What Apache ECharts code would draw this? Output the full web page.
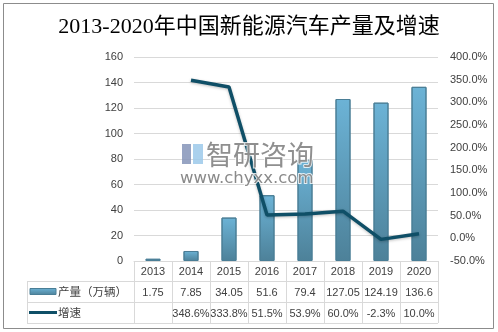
<!DOCTYPE html>
<html><head><meta charset="utf-8">
<script src="https://cdn.jsdelivr.net/npm/echarts@6/dist/echarts.min.js"></script>
<style>html,body{margin:0;padding:0;background:#fff}#c{width:498px;height:332px}</style>
</head><body><div id="c"></div>
<script>
var categories = ['2013','2014','2015','2016','2017','2018','2019','2020'];
var production = [1.75, 7.85, 34.05, 51.6, 79.4, 127.05, 124.19, 136.6];
var growth = [null, 348.6, 333.8, 51.5, 53.9, 60.0, -2.3, 10.0];
var productionLabels = ['1.75','7.85','34.05','51.6','79.4','127.05','124.19','136.6'];
var growthLabels = ['','348.6%','333.8%','51.5%','53.9%','60.0%','-2.3%','10.0%'];
var seriesNames = ['产量（万辆）','增速'];
var titleText = '2013-2020年中国新能源汽车产量及增速';

var FONT = '"Liberation Sans", "Noto Sans CJK SC", sans-serif';
var TXT = '#404040';
var GRID = '#d9d9d9';
var barGrad = new echarts.graphic.LinearGradient(0,0,0,1,[{offset:0,color:'#6cb3d6'},{offset:1,color:'#4d8199'}]);

var chart = echarts.init(document.getElementById('c'), null, {renderer:'canvas'});
var option = {
  animation:false,
  backgroundColor:'#fff',
  title:{text:titleText,left:'center',top:11,textStyle:{fontFamily:'"Liberation Serif", "Noto Sans CJK SC", serif',fontSize:22,fontWeight:'normal',color:'#000'}},
  grid:{left:134,right:60,top:57,bottom:71,containLabel:false},
  xAxis:{type:'category',data:categories,
    axisLine:{show:true,lineStyle:{color:GRID,width:1}},
    axisTick:{show:false},
    axisLabel:{margin:5,fontSize:11,fontFamily:FONT,color:TXT}},
  yAxis:[
    {type:'value',min:0,max:160,interval:20,
     axisLine:{show:false},axisTick:{show:false},
     axisLabel:{margin:11,fontSize:11,fontFamily:FONT,color:TXT},
     splitLine:{lineStyle:{color:GRID,width:1}}},
    {type:'value',min:-50,max:400,interval:50,position:'right',
     axisLine:{show:false},axisTick:{show:false},
     axisLabel:{margin:12,fontSize:11,fontFamily:FONT,color:TXT,formatter:function(v){return v.toFixed(1)+'%';}},
     splitLine:{show:false}}
  ],
  series:[
    {name:seriesNames[0],type:'bar',data:production,barWidth:15,
     itemStyle:{color:barGrad,borderColor:'#4a7e96',borderWidth:1}},
    {name:seriesNames[1],type:'line',yAxisIndex:1,data:growth,symbol:'none',
     lineStyle:{color:'#0f4f67',width:3.5,shadowColor:'rgba(0,0,0,0.25)',shadowBlur:3,shadowOffsetY:1},z:5}
  ]
};
chart.setOption(option);

// build table & decorations from axis scale
var c0 = chart.convertToPixel({xAxisIndex:0}, 0);
var c1 = chart.convertToPixel({xAxisIndex:0}, 1);
var bw = c1 - c0;
var x0 = c0 - bw/2;
var x1 = x0 + bw*categories.length;
var yAxisPx = chart.convertToPixel({yAxisIndex:0}, 0);
var r1 = yAxisPx + 20, r2 = r1 + 21, r3 = r2 + 21;
var legendLeft = 27;
var g = [];
function line(xa,ya,xb,yb){g.push({type:'line',shape:{x1:xa,y1:ya,x2:xb,y2:yb},style:{stroke:GRID,lineWidth:1},silent:true});}
line(legendLeft, r1+0.5, x1, r1+0.5);
line(legendLeft, r2+0.5, x1, r2+0.5);
line(legendLeft, r3+0.5, x1, r3+0.5);
line(legendLeft+0.5, r1, legendLeft+0.5, r3);
for (var k=0;k<=categories.length;k++){var xx=Math.round(x0+bw*k)+0.5; line(xx, yAxisPx, xx, r3);}
for (var i=0;i<categories.length;i++){
  var cx = chart.convertToPixel({xAxisIndex:0}, i);
  g.push({type:'text',x:cx,y:(r1+r2)/2+1,style:{text:productionLabels[i],font:'11px '+FONT,fill:TXT,textAlign:'center',textVerticalAlign:'middle'}});
  g.push({type:'text',x:cx,y:(r2+r3)/2+1,style:{text:growthLabels[i],font:'11px '+FONT,fill:TXT,textAlign:'center',textVerticalAlign:'middle'}});
}
// legend keys
g.push({type:'rect',shape:{x:30,y:(r1+r2)/2-3,width:26,height:6},style:{fill:barGrad,stroke:'#4a7e96',lineWidth:1}});
g.push({type:'text',x:58,y:(r1+r2)/2+1,style:{text:seriesNames[0],font:'11.5px '+FONT,fill:TXT,textVerticalAlign:'middle'}});
g.push({type:'line',shape:{x1:29,y1:(r2+r3)/2,x2:57,y2:(r2+r3)/2},style:{stroke:'#0f4f67',lineWidth:3}});
g.push({type:'text',x:58,y:(r2+r3)/2+1,style:{text:seriesNames[1],font:'11.5px '+FONT,fill:TXT,textVerticalAlign:'middle'}});
// outer border
g.push({type:'rect',shape:{x:3.5,y:3.5,width:490,height:325},style:{fill:'none',stroke:'#8c8c8c',lineWidth:1},silent:true});
// watermark
g.push({type:'rect',shape:{x:182,y:144,width:9,height:20},style:{fill:'#8594b8',opacity:0.85},z:50});
g.push({type:'rect',shape:{x:193,y:144,width:10,height:20},style:{fill:'#9cc9ea',opacity:0.85},z:50});
g.push({type:'text',x:206,y:155,z:50,style:{text:'智研咨询',font:'27px "Noto Sans CJK SC"',fill:'#8f8f8f',stroke:'rgba(255,255,255,0.8)',lineWidth:2,textVerticalAlign:'middle'}});
g.push({type:'text',x:180,y:179,z:50,style:{text:'www.chyxx.com',font:'16.5px "DejaVu Sans"',fill:'#8a8a8a',stroke:'rgba(255,255,255,0.8)',lineWidth:2,textVerticalAlign:'middle'}});
chart.setOption({graphic:g});
</script>
</body></html>
